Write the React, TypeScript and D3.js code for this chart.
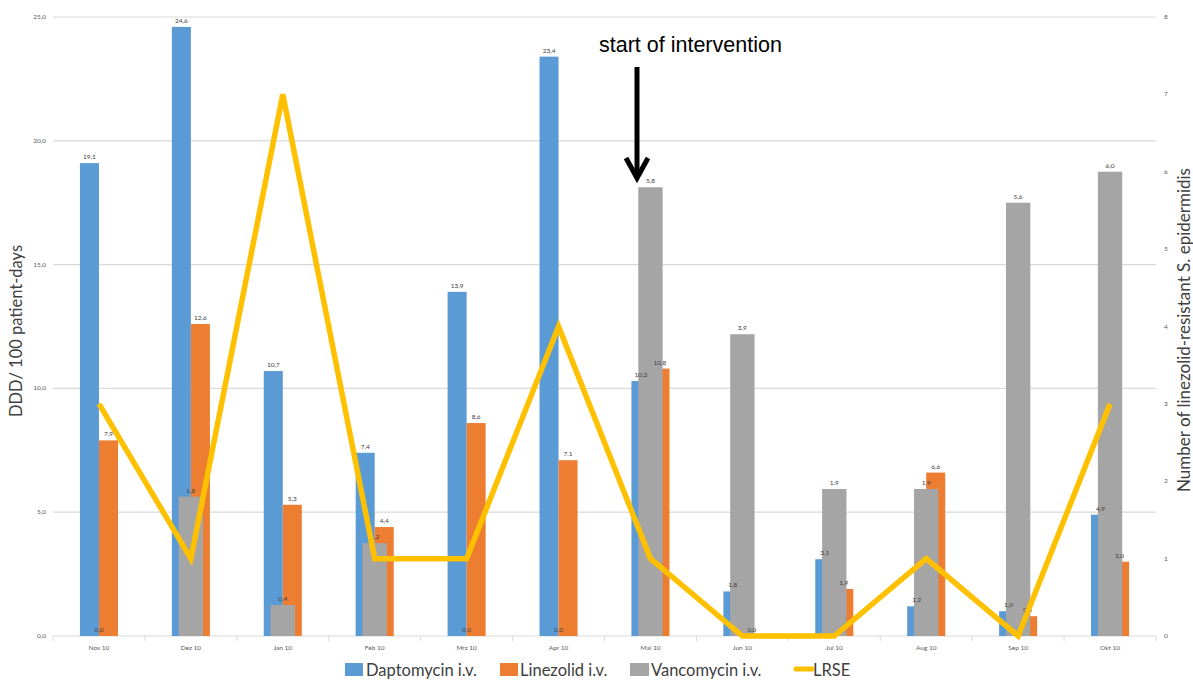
import React from "react"
import * as d3 from "d3"

const months = ["Nov 10", "Dez 10", "Jan 10", "Feb 10", "Mrz 10", "Apr 10", "Mai 10", "Jun 10", "Jul 10", "Aug 10", "Sep 10", "Okt 10"]
const daptomycin = [19.1, 24.6, 10.7, 7.4, 13.9, 23.4, 10.3, 1.8, 3.1, 1.2, 1.0, 4.9]
const linezolid = [7.9, 12.6, 5.3, 4.4, 8.6, 7.1, 10.8, 0.0, 1.9, 6.6, 0.8, 3.0]
const vancomycin = [0.0, 1.8, 0.4, 1.2, 0.0, 0.0, 5.8, 3.9, 1.9, 1.9, 5.6, 6.0]
const lrse = [3, 1, 7, 1, 1, 4, 1, 0, 0, 1, 0, 3]
const leftTicks = [0, 5, 10, 15, 20, 25]
const rightTicks = [0, 1, 2, 3, 4, 5, 6, 7, 8]

const W = 1193
const H = 680
const left = 53
const right = 1156
const top = 17
const bottom = 636

const BLUE = "#5B9BD5"
const ORANGE = "#ED7D31"
const GREY = "#A5A5A5"
const YELLOW = "#FFC000"
const FONT = "Lato, 'Open Sans', sans-serif"

const fmt = (v: number) => v.toFixed(1).replace(".", ",")

export default function App() {
  const x = d3.scaleBand().domain(months).range([left, right]).padding(0)
  const yL = d3.scaleLinear().domain([0, 25]).range([bottom, top])
  const yR = d3.scaleLinear().domain([0, 8]).range([bottom, top])
  const bw = x.bandwidth()
  const pw = bw * 0.207
  const gw = bw * 0.265
  const cx = (m: string) => (x(m) as number) + bw / 2

  const line = d3.line<number>()
    .x((d, i) => cx(months[i]))
    .y(d => yR(d))

  const label = (tx: number, v: number, yy: number, key: string) => (
    <text key={key} x={tx} y={yy - 4} textAnchor="middle" fontSize={6.5} fill="#404040" fontFamily={FONT}>{fmt(v)}</text>
  )

  return (
    <svg width={W} height={H} style={{ position: "absolute", left: 0, top: 0, background: "#fff" }}>
      {/* gridlines */}
      {leftTicks.map(t => (
        <line key={"g" + t} x1={left} x2={right} y1={yL(t)} y2={yL(t)} stroke="#D9D9D9" strokeWidth={1.2} />
      ))}
      {/* category boundaries */}
      {months.map(m => (
        <line key={"t" + m} x1={x(m)} x2={x(m)} y1={bottom} y2={bottom + 5} stroke="#D9D9D9" />
      ))}
      <line x1={right} x2={right} y1={bottom} y2={bottom + 5} stroke="#D9D9D9" />

      {/* primary bars */}
      {months.map((m, i) => (
        <g key={"p" + m}>
          <rect x={cx(m) - pw} y={yL(daptomycin[i])} width={pw} height={bottom - yL(daptomycin[i])} fill={BLUE} />
          <rect x={cx(m)} y={yL(linezolid[i])} width={pw} height={bottom - yL(linezolid[i])} fill={ORANGE} />
        </g>
      ))}
      {/* secondary bars */}
      {months.map((m, i) => (
        <rect key={"v" + m} x={cx(m) - gw / 2} y={yR(vancomycin[i])} width={gw} height={bottom - yR(vancomycin[i])} fill={GREY} />
      ))}

      {/* data labels */}
      {months.map((m, i) => (
        <g key={"l" + m}>
          {label(cx(m) - pw / 2, daptomycin[i], yL(daptomycin[i]), "d")}
          {label(cx(m) + pw / 2, linezolid[i], yL(linezolid[i]), "o")}
          {label(cx(m), vancomycin[i], yR(vancomycin[i]), "v")}
        </g>
      ))}

      {/* LRSE line */}
      <path d={line(lrse) || ""} fill="none" stroke={YELLOW} strokeWidth={5.5} strokeLinejoin="miter" />

      {/* left axis */}
      {leftTicks.map(t => (
        <text key={"lt" + t} x={46} y={yL(t) + 2} textAnchor="end" fontSize={6.5} fill="#595959" fontFamily={FONT}>{fmt(t)}</text>
      ))}
      {/* right axis */}
      {rightTicks.map(t => (
        <text key={"rt" + t} x={1164} y={yR(t) + 2} textAnchor="start" fontSize={6.5} fill="#595959" fontFamily={FONT}>{t}</text>
      ))}
      {/* category labels */}
      {months.map(m => (
        <text key={"c" + m} x={cx(m)} y={650} textAnchor="middle" fontSize={6.5} fill="#595959" fontFamily={FONT}>{m}</text>
      ))}

      {/* axis titles */}
      <text transform={`translate(22,331) rotate(-90)`} textAnchor="middle" fontSize={16.5} fill="#404040" fontFamily={FONT}>DDD/ 100 patient-days</text>
      <text transform={`translate(1190,330) rotate(-90)`} textAnchor="middle" fontSize={17} fill="#404040" fontFamily={FONT}>Number of linezolid-resistant S. epidermidis</text>

      {/* annotation */}
      <text x={599} y={52} fontSize={21.5} fill="#000" fontFamily="'Liberation Sans', Arial, sans-serif">start of intervention</text>
      <line x1={637} x2={637} y1={67} y2={176} stroke="#000" strokeWidth={5} />
      <polyline points="626,158 637,178 648,158" fill="none" stroke="#000" strokeWidth={5} strokeLinejoin="miter" />

      {/* legend */}
      <rect x={345} y={663} width={18} height={13} fill={BLUE} />
      <text x={366} y={675.5} fontSize={16.5} fill="#404040" fontFamily={FONT}>Daptomycin i.v.</text>
      <rect x={500} y={663} width={18} height={13} fill={ORANGE} />
      <text x={520} y={675.5} fontSize={16.5} fill="#404040" fontFamily={FONT}>Linezolid i.v.</text>
      <rect x={630} y={663} width={19} height={13} fill={GREY} />
      <text x={651} y={675.5} fontSize={16.5} fill="#404040" fontFamily={FONT}>Vancomycin i.v.</text>
      <line x1={796} x2={812} y1={669} y2={669} stroke={YELLOW} strokeWidth={5} strokeLinecap="round" />
      <text x={813} y={675.5} fontSize={16.5} fill="#404040" fontFamily={FONT}>LRSE</text>
    </svg>
  )
}
